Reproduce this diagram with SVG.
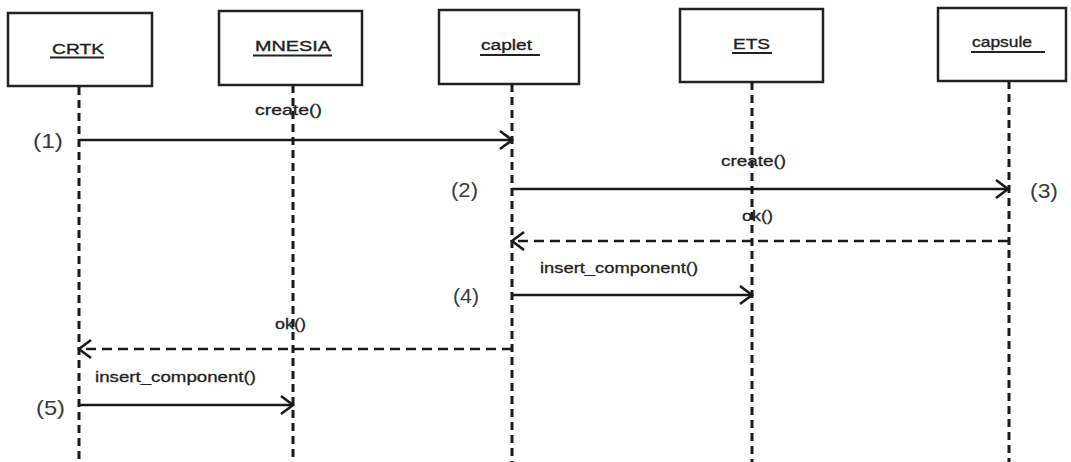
<svg xmlns="http://www.w3.org/2000/svg" width="1071" height="462" viewBox="0 0 1071 462">
<style>
.box{fill:#fff;stroke:#222;stroke-width:2.5}
.nm{font-family:"Liberation Sans",Arial,sans-serif;font-size:15.5px;fill:#222;stroke:#222;stroke-width:0.35}
.ul{stroke:#222;stroke-width:2}
.life{stroke:#1a1a1a;stroke-width:3;stroke-dasharray:8 5;fill:none}
.msg{stroke:#1a1a1a;stroke-width:2.6;fill:none}
.ret{stroke:#1a1a1a;stroke-width:2.6;stroke-dasharray:10 6;fill:none}
.head{stroke:#1a1a1a;stroke-width:2.6;fill:none;stroke-linejoin:miter}
.lbl{font-family:"Liberation Sans",Arial,sans-serif;font-size:15px;fill:#222;stroke:#222;stroke-width:0.3}
.num{font-family:"Liberation Sans",Arial,sans-serif;font-size:21px;fill:#3a3a3a}
</style>
<g id="connectors">
<line class="life" x1="79" y1="87" x2="79" y2="462"/>
<line class="life" x1="293" y1="85" x2="293" y2="462"/>
<line class="life" x1="512" y1="84" x2="512" y2="462"/>
<line class="life" x1="752" y1="82" x2="752" y2="462"/>
<line class="life" x1="1009" y1="81" x2="1009" y2="462"/>
<line class="msg" x1="79" y1="140" x2="512" y2="140"/>
<polyline class="head" points="500,131 512,140 500,149"/>
<text class="lbl" x="255" y="115" textLength="67" lengthAdjust="spacingAndGlyphs">create()</text>
<line class="msg" x1="512" y1="189" x2="1008" y2="189"/>
<polyline class="head" points="996,180 1008,189 996,198"/>
<text class="lbl" x="721" y="166" textLength="65" lengthAdjust="spacingAndGlyphs">create()</text>
<line class="ret" x1="1008" y1="241" x2="514" y2="241"/>
<polyline class="head" points="524,232 512,241 524,250"/>
<text class="lbl" x="742" y="221" textLength="31" lengthAdjust="spacingAndGlyphs">ok()</text>
<line class="msg" x1="512" y1="295" x2="752" y2="295"/>
<polyline class="head" points="740,286 752,295 740,304"/>
<text class="lbl" x="540" y="273" textLength="158" lengthAdjust="spacingAndGlyphs">insert_component()</text>
<line class="ret" x1="512" y1="349" x2="81" y2="349"/>
<polyline class="head" points="91,340 79,349 91,358"/>
<text class="lbl" x="275" y="329" textLength="31" lengthAdjust="spacingAndGlyphs">ok()</text>
<line class="msg" x1="79" y1="405" x2="293" y2="405"/>
<polyline class="head" points="281,396 293,405 281,414"/>
<text class="lbl" x="95" y="382" textLength="161" lengthAdjust="spacingAndGlyphs">insert_component()</text>
</g>
<g id="n1"><text class="num" x="33" y="148" textLength="30" lengthAdjust="spacingAndGlyphs">(1)</text></g>
<g id="n2"><text class="num" x="451" y="197" textLength="27" lengthAdjust="spacingAndGlyphs">(2)</text></g>
<g id="n3"><text class="num" x="1030" y="198" textLength="28" lengthAdjust="spacingAndGlyphs">(3)</text></g>
<g id="n4"><text class="num" x="453" y="303" textLength="26" lengthAdjust="spacingAndGlyphs">(4)</text></g>
<g id="n5"><text class="num" x="36" y="415" textLength="29" lengthAdjust="spacingAndGlyphs">(5)</text></g>
<g id="CRTK"><rect class="box" x="8" y="13" width="144" height="73"/><text class="nm" x="52" y="54" textLength="52" lengthAdjust="spacingAndGlyphs">CRTK</text><line class="ul" x1="50" y1="57.5" x2="104" y2="57.5"/></g>
<g id="MNESIA"><rect class="box" x="219" y="11" width="143" height="74"/><text class="nm" x="255" y="51" textLength="76" lengthAdjust="spacingAndGlyphs">MNESIA</text><line class="ul" x1="253" y1="55.5" x2="332" y2="55.5"/></g>
<g id="caplet"><rect class="box" x="439" y="10" width="140" height="74"/><text class="nm" x="481" y="50" textLength="51" lengthAdjust="spacingAndGlyphs">caplet</text><line class="ul" x1="480" y1="55" x2="540" y2="55"/></g>
<g id="ETS"><rect class="box" x="680" y="9" width="143" height="73"/><text class="nm" x="733" y="49" textLength="37" lengthAdjust="spacingAndGlyphs">ETS</text><line class="ul" x1="732" y1="53" x2="772" y2="53"/></g>
<g id="capsule"><rect class="box" x="938" y="8" width="128" height="73"/><text class="nm" x="972" y="47" textLength="60" lengthAdjust="spacingAndGlyphs">capsule</text><line class="ul" x1="971" y1="52" x2="1045" y2="52"/></g>
</svg>
